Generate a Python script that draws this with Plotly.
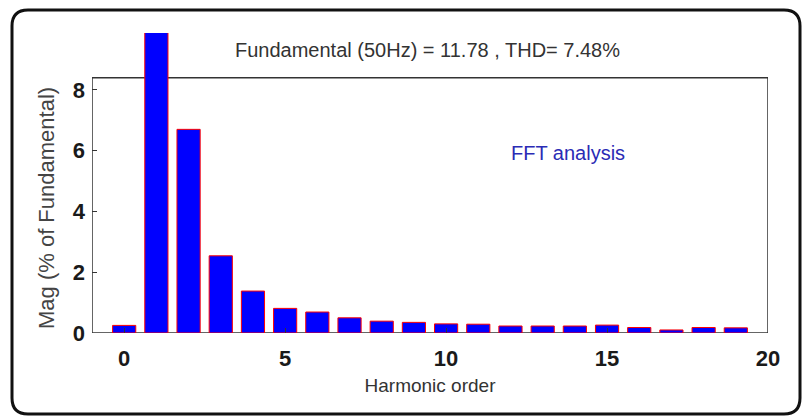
import plotly.graph_objects as go

# Harmonic spectrum, magnitudes in % of the fundamental
harmonics = list(range(20))
magnitude = [0.25, 100.0, 6.70, 2.54, 1.38, 0.81, 0.69, 0.50, 0.39, 0.35,
             0.30, 0.29, 0.23, 0.23, 0.23, 0.26, 0.18, 0.10, 0.18, 0.17]

x_ticks = [0, 5, 10, 15, 20]
y_ticks = [0, 2, 4, 6, 8]

title_text = "Fundamental (50Hz) = 11.78 , THD= 7.48%"
note_text = "FFT analysis"
x_label = "Harmonic order"
y_label = "Mag (% of Fundamental)"

W, H = 806, 417
ML, MR, MT, MB = 92, 38, 33, 84
PW, PH = W - ML - MR, H - MT - MB
X_RANGE = [-1, 20]
Y_TOP_BOX = 8.4          # top of the drawn axes box
Y_RANGE = [0, 9.87]      # extra head-room so the fundamental bar pokes above the box


def px(x):
    return (x - ML) / PW


def py(y):
    return (H - MB - y) / PH


fig = go.Figure()
fig.add_trace(go.Bar(
    x=harmonics, y=magnitude, width=0.72,
    marker=dict(color="#0000ff", line=dict(color="#ff0000", width=1)),
    showlegend=False, hoverinfo="x+y",
))

tick_font = dict(family="Liberation Sans, Arial, sans-serif", size=22, color="#1a1a1a")

fig.update_layout(
    width=W, height=H,
    margin=dict(l=ML, r=MR, t=MT, b=MB, pad=0),
    paper_bgcolor="white", plot_bgcolor="white",
    bargap=0.28,
    xaxis=dict(
        range=X_RANGE, tickvals=x_ticks, ticktext=[f"<b>{v}</b>" for v in x_ticks],
        ticks="inside", ticklen=5, tickcolor="#333", tickwidth=1,
        tickfont=tick_font, showgrid=False, zeroline=False, showline=False,
        ticklabelstandoff=10,
        title=dict(text=x_label, standoff=8,
                   font=dict(family="Liberation Sans, Arial, sans-serif", size=19, color="#333")),
    ),
    yaxis=dict(
        range=Y_RANGE, tickvals=y_ticks, ticktext=[f"<b>{v}</b>" for v in y_ticks],
        ticks="inside", ticklen=5, tickcolor="#333", tickwidth=1,
        tickfont=tick_font, showgrid=False, zeroline=False, showline=False,
        ticklabelstandoff=6,
    ),
    xaxis2=dict(
        overlaying="x", side="top", anchor="free", position=Y_TOP_BOX / Y_RANGE[1],
        range=X_RANGE, tickvals=x_ticks, ticks="inside", ticklen=5,
        tickcolor="#333", showticklabels=False, showgrid=False, zeroline=False,
    ),
    yaxis2=dict(
        overlaying="y", side="right", anchor="x", range=Y_RANGE, tickvals=y_ticks[1:],
        ticks="inside", ticklen=5, tickcolor="#333", showticklabels=False,
        showgrid=False, zeroline=False,
    ),
)

# axes box
fig.add_shape(type="rect", xref="x", yref="y", x0=X_RANGE[0], x1=X_RANGE[1],
              y0=0, y1=Y_TOP_BOX, line=dict(color="#333", width=1.5), layer="below")

# rounded outer frame
l, r, t, b, rad = 12, 800, 10, 414, 16
path = (f"M {px(l + rad)},{py(t)} L {px(r - rad)},{py(t)} Q {px(r)},{py(t)} {px(r)},{py(t + rad)} "
        f"L {px(r)},{py(b - rad)} Q {px(r)},{py(b)} {px(r - rad)},{py(b)} "
        f"L {px(l + rad)},{py(b)} Q {px(l)},{py(b)} {px(l)},{py(b - rad)} "
        f"L {px(l)},{py(t + rad)} Q {px(l)},{py(t)} {px(l + rad)},{py(t)} Z")
fig.add_shape(type="path", xref="paper", yref="paper", path=path,
              line=dict(color="#111", width=3))

fig.add_annotation(text=title_text, xref="paper", yref="paper", x=px(427), y=py(50),
                   xanchor="center", yanchor="middle", showarrow=False,
                   font=dict(family="Liberation Sans, Arial, sans-serif", size=20, color="#333"))
fig.add_annotation(text=y_label, xref="paper", yref="paper", x=px(47), y=py(208),
                   xanchor="center", yanchor="middle", showarrow=False, textangle=-90,
                   font=dict(family="Liberation Sans, Arial, sans-serif", size=22, color="#444"))
fig.add_annotation(text=note_text, xref="x", yref="y", x=13.8, y=5.92,
                   xanchor="center", yanchor="middle", showarrow=False,
                   font=dict(family="Liberation Sans, Arial, sans-serif", size=20, color="#2b2bb5"))

fig.write_html("out.html")
